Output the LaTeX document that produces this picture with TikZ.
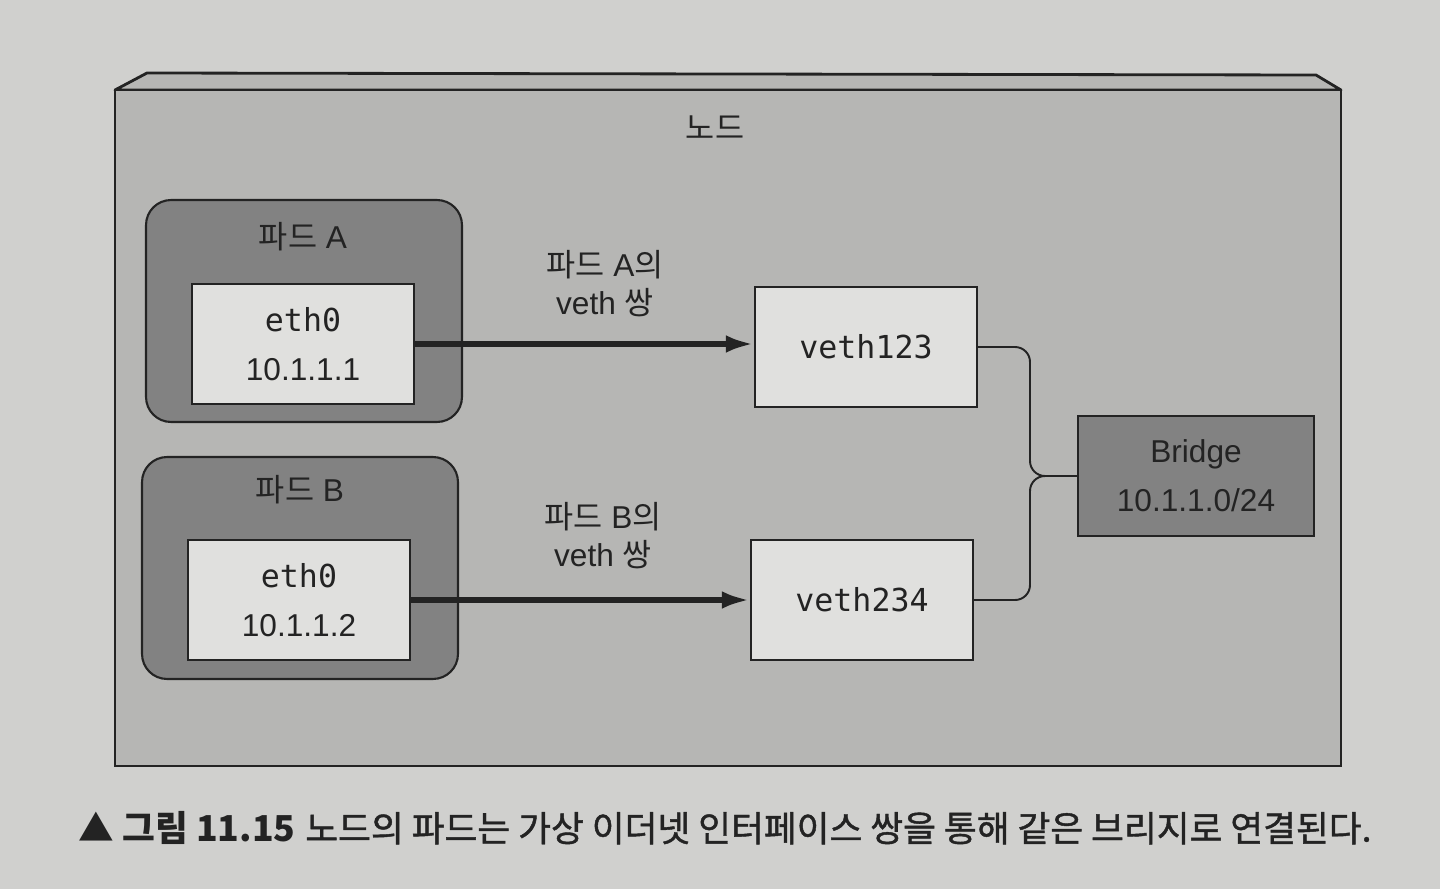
\documentclass[tikz,border=0pt]{standalone}
\usepackage{fontspec}
\setmainfont{Liberation Sans}
\setmonofont{DejaVu Sans Mono}
\newfontfamily\kr{Noto Sans CJK KR}
\newfontfamily\krcap[FakeBold=1.2]{Noto Sans CJK KR}
\usetikzlibrary{arrows.meta}

\definecolor{paper}{RGB}{208,208,206}
\definecolor{nodegray}{RGB}{182,182,180}
\definecolor{podgray}{RGB}{130,130,130}
\definecolor{boxwhite}{RGB}{224,224,222}
\definecolor{ink}{RGB}{35,35,35}

\tikzset{
  txt/.style={text=ink, font=\fontsize{18}{28}\selectfont, inner sep=0},
  podbox/.style={draw=ink, line width=1.2pt, fill=podgray, rounded corners=0.5cm,
    minimum width=6.32cm, minimum height=4.44cm, inner sep=0},
  ifbox/.style={draw=ink, line width=1.2pt, fill=boxwhite, minimum width=4.44cm,
    minimum height=2.4cm, inner sep=0, align=center, text=ink,
    font=\fontsize{18}{28}\selectfont},
  bridgebox/.style={ifbox, fill=podgray, minimum width=4.72cm},
  pair/.style={line width=3.8pt, draw=ink, -{Latex[length=16pt,width=10pt]}},
  link/.style={line width=1.1pt, draw=ink, rounded corners=0.3cm},
}

\begin{document}
\begin{tikzpicture}[x=0.02cm,y=-0.02cm]
  \fill[paper] (0,0) rectangle (1440,889);
  \useasboundingbox (0,0) rectangle (1440,889);

  % node
  \draw[ink, line width=1.6pt, fill=nodegray, line join=round]
    (115,90) -- (147,73) -- (1316,75) -- (1341,90) -- cycle;
  \draw[ink, line width=1.6pt, fill=nodegray] (115,90) rectangle (1341,766);
  \node[txt] (nodename) at (715,128) {\kr 노드};

  % pods
  \node[podbox] (podA) at (304,311) {};
  \node[txt] (podAname) at (303,237) {{\kr 파드} A};
  \node[ifbox] (ethA) at (303,344) {{\ttfamily eth0}\\10.1.1.1};

  \node[podbox] (podB) at (300,568) {};
  \node[txt] (podBname) at (300,490) {{\kr 파드} B};
  \node[ifbox] (ethB) at (299,600) {{\ttfamily eth0}\\10.1.1.2};

  % veth pairs
  \node[ifbox] (veth123) at (866,347) {\ttfamily veth123};
  \node[ifbox] (veth234) at (862,600) {\ttfamily veth234};
  \node[bridgebox] (bridge) at (1196,476) {Bridge\\10.1.1.0/24};

  \draw[pair] (ethA.east) -- (ethA.east -| veth123.west);
  \draw[pair] (ethB.east) -- (ethB.east -| veth234.west);

  \node[txt, align=center, font=\fontsize{18}{21.5}\selectfont] (pairA) at (605,284)
    {{\kr 파드} A{\kr 의}\\veth {\kr 쌍}};
  \node[txt, align=center, font=\fontsize{18}{21.5}\selectfont] (pairB) at (603,536)
    {{\kr 파드} B{\kr 의}\\veth {\kr 쌍}};

  % to the bridge
  \coordinate (joint) at (1030,476);
  \draw[link] (veth123.east) -| (joint) -- (bridge.west);
  \draw[link] (veth234.east) -| (joint) -- (bridge.west);

  % caption
  \node[txt, font=\fontsize{20.3}{24}\selectfont] (caption) at (725,828)
    {{\kr\bfseries ▲ 그림 11.15} \krcap 노드의 파드는 가상 이더넷 인터페이스 쌍을 통해 같은 브리지로 연결된다.};
\end{tikzpicture}
\end{document}
